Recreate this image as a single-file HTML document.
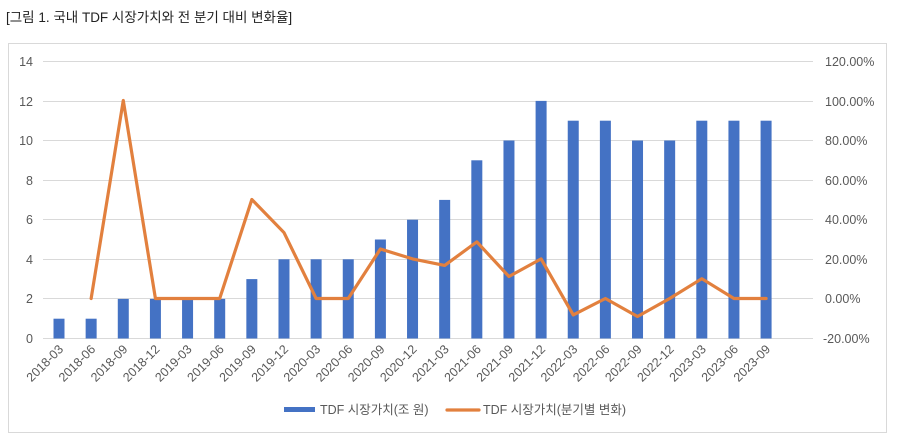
<!DOCTYPE html>
<html><head><meta charset="utf-8"><style>
html,body{margin:0;padding:0;background:#fff;}
svg{display:block;font-family:"Liberation Sans","Noto Sans CJK KR",sans-serif;}
</style></head><body>
<svg width="899" height="446" viewBox="0 0 899 446">
<text x="6" y="22" font-size="13.5" fill="#222">[그림 1. 국내 TDF 시장가치와 전 분기 대비 변화율]</text>
<rect x="8.5" y="43.5" width="878" height="389" fill="#fff" stroke="#d9d9d9"/>
<g stroke="#d9d9d9" stroke-width="1">
<line x1="43" x2="813" y1="61.5" y2="61.5"/>
<line x1="43" x2="813" y1="101.5" y2="101.5"/>
<line x1="43" x2="813" y1="140.5" y2="140.5"/>
<line x1="43" x2="813" y1="180.5" y2="180.5"/>
<line x1="43" x2="813" y1="219.5" y2="219.5"/>
<line x1="43" x2="813" y1="259.5" y2="259.5"/>
<line x1="43" x2="813" y1="298.5" y2="298.5"/>
<line x1="43" x2="813" y1="338.5" y2="338.5"/>
</g>
<g font-size="12.5" fill="#595959" text-anchor="end">
<text x="33" y="66">14</text><text x="33" y="106">12</text><text x="33" y="145">10</text>
<text x="33" y="185">8</text><text x="33" y="224">6</text><text x="33" y="264">4</text>
<text x="33" y="303">2</text><text x="33" y="343">0</text>
</g>
<g font-size="12.5" fill="#595959">
<text x="825" y="66">120.00%</text><text x="825" y="106">100.00%</text><text x="825" y="145">80.00%</text>
<text x="825" y="185">60.00%</text><text x="825" y="224">40.00%</text><text x="825" y="264">20.00%</text>
<text x="825" y="303">0.00%</text><text x="823" y="343">-20.00%</text>
</g>
<g id="bars" fill="#4472c4"></g>
<g id="labels" font-size="12.5" fill="#595959" text-anchor="end"></g>
<polyline id="line" fill="none" stroke="#e2803e" stroke-width="3.2" stroke-linejoin="round" stroke-linecap="round"/>
<rect x="284" y="407" width="31" height="5" fill="#4472c4"/>
<text x="320" y="414" font-size="12.5" fill="#595959">TDF 시장가치(조 원)</text>
<line x1="447" x2="479" y1="410" y2="410" stroke="#e2803e" stroke-width="3.2" stroke-linecap="round"/>
<text x="483" y="414" font-size="12.5" fill="#595959">TDF 시장가치(분기별 변화)</text>
<script>
var cats=["2018-03","2018-06","2018-09","2018-12","2019-03","2019-06","2019-09","2019-12","2020-03","2020-06","2020-09","2020-12","2021-03","2021-06","2021-09","2021-12","2022-03","2022-06","2022-09","2022-12","2023-03","2023-06","2023-09"];
var v=[1,1,2,2,2,2,3,4,4,4,5,6,7,9,10,12,11,11,10,10,11,11,11];
var p=[null,0,100,0,0,0,50,33.3,0,0,25,20,16.7,28.6,11.1,20,-8.3,0,-9.1,0,10,0,0];
var ns="http://www.w3.org/2000/svg",b=document.getElementById("bars"),l=document.getElementById("labels"),pts=[];
for(var i=0;i<23;i++){var x=59+i*32.14;
var r=document.createElementNS(ns,"rect");var h=v[i]*19.8;
r.setAttribute("x",x-5.5);r.setAttribute("y",338.5-h);r.setAttribute("width",11);r.setAttribute("height",h);b.appendChild(r);
var t=document.createElementNS(ns,"text");t.setAttribute("transform","translate("+(x+5)+",350) rotate(-45)");t.textContent=cats[i];l.appendChild(t);
if(p[i]!==null)pts.push(x+","+(298.5-p[i]*1.98));}
document.getElementById("line").setAttribute("points",pts.join(" "));
</script>
</svg>
</body></html>
